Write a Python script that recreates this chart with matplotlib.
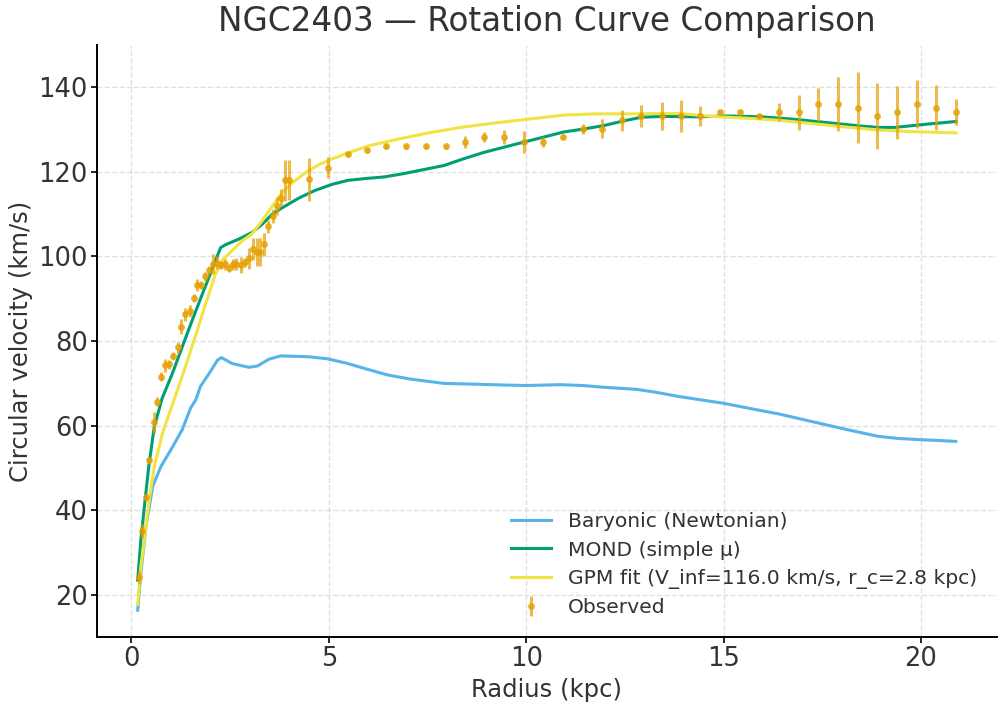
import numpy as np
from matplotlib import pyplot as plt

# observed rotation curve (kpc, km/s)
r_obs = [0.18, 0.27, 0.37, 0.45, 0.56, 0.66, 0.75, 0.86, 0.95, 1.05,
         1.17, 1.26, 1.37, 1.48, 1.58, 1.67, 1.77, 1.87, 1.97, 2.07,
         2.18, 2.27, 2.37, 2.47, 2.57, 2.66, 2.77, 2.87, 2.97, 3.07,
         3.17, 3.27, 3.37, 3.47, 3.58, 3.68, 3.78, 3.88, 3.98, 4.49,
         4.99, 5.49, 5.98, 6.46, 6.96, 7.46, 7.96, 8.46, 8.94, 9.45,
         9.94, 10.43, 10.93, 11.43, 11.91, 12.43, 12.92, 13.43, 13.92, 14.41,
         14.92, 15.42, 15.90, 16.41, 16.90, 17.40, 17.91, 18.40, 18.89, 19.40,
         19.89, 20.38, 20.89]
v_obs = [24.2, 35.1, 43.1, 51.8, 60.8, 65.7, 71.6, 74.3, 74.5, 76.5,
         78.5, 83.4, 86.3, 87.1, 90.2, 93.2, 93.3, 95.3, 96.8, 98.2,
         98.5, 98.0, 98.1, 97.3, 98.1, 98.2, 98.0, 98.6, 99.6, 101.8,
         101.0, 101.0, 102.9, 107.1, 109.6, 111.9, 113.9, 118.0, 118.0, 118.2,
         121.0, 124.2, 125.1, 126.0, 126.0, 126.0, 126.0, 127.1, 128.2, 128.2,
         127.1, 127.1, 128.2, 130.2, 130.2, 132.2, 133.2, 133.2, 133.2, 133.2,
         134.1, 134.1, 133.2, 134.1, 134.1, 136.0, 136.0, 135.2, 133.2, 134.1,
         136.0, 135.2, 134.1]
e_obs = [1.6, 1.6, 0.8, 0.8, 2.5, 1.0, 1.0, 1.5, 1.0, 1.0,
         1.4, 1.8, 1.5, 1.4, 1.0, 1.4, 1.0, 1.0, 1.0, 2.3,
         1.5, 1.0, 1.2, 1.0, 1.4, 1.5, 1.8, 1.0, 2.5, 2.6,
         3.3, 3.3, 2.7, 1.6, 1.6, 2.1, 2.0, 4.9, 4.7, 5.1,
         2.4, 0.6, 0.6, 0.5, 0.5, 0.5, 0.5, 1.4, 1.1, 1.6,
         2.6, 1.2, 0.5, 1.2, 2.3, 2.5, 2.7, 3.3, 3.7, 2.4,
         0.5, 0.5, 0.5, 2.2, 4.1, 3.9, 6.4, 8.4, 7.8, 6.3,
         5.7, 5.3, 3.0]

# baryonic (Newtonian)
r_bar = [0.16, 0.24, 0.37, 0.54, 0.75, 1.0, 1.29, 1.5, 1.63, 1.75, 2.0, 2.18,
         2.28, 2.55, 2.98, 3.19, 3.48, 3.78, 4.49, 4.98, 5.48, 5.99, 6.49,
         7.08, 7.92, 8.76, 9.51, 10.0, 10.86, 11.44, 11.95, 12.79, 13.29,
         13.87, 15.0, 15.71, 16.39, 17.23, 18.07, 18.91, 19.41, 20.0, 20.88]
v_bar = [16.4, 25.3, 36.2, 45.7, 50.4, 54.3, 59.1, 64.2, 66.1, 69.3, 72.8, 75.5,
         76.1, 74.7, 73.8, 74.1, 75.7, 76.5, 76.3, 75.8, 74.7, 73.3, 72.0,
         71.0, 70.0, 69.8, 69.6, 69.5, 69.7, 69.5, 69.1, 68.6, 67.9,
         66.9, 65.3, 64.0, 62.8, 61.0, 59.2, 57.5, 57.0, 56.7, 56.3]

# MOND (simple mu)
r_mond = [0.16, 0.24, 0.33, 0.44, 0.58, 0.78, 1.04, 1.29, 1.54, 1.80, 2.05,
          2.26, 2.39, 2.72, 3.06, 3.31, 3.57, 3.82, 4.24, 4.65, 5.07, 5.49,
          5.91, 6.41, 6.91, 7.92, 8.42, 8.93, 9.43, 9.93, 10.44, 10.94, 11.44,
          11.95, 12.45, 12.92, 13.44, 14.28, 15.13, 15.97, 16.81, 17.66, 18.50,
          18.92, 19.34, 20.19, 20.89]
v_mond = [23.5, 33.1, 41.0, 50.4, 59.8, 66.5, 72.4, 78.7, 84.9, 91.2, 97.1,
          102.1, 102.8, 104.1, 105.7, 107.6, 110.0, 111.5, 113.8, 115.6, 117.0, 118.0,
          118.4, 118.8, 119.6, 121.5, 123.1, 124.6, 125.8, 127.0, 128.2, 129.4, 130.1,
          130.9, 132.0, 132.9, 133.1, 133.0, 133.2, 133.0, 132.4, 131.6, 130.8,
          130.5, 130.5, 131.3, 131.9]

# GPM fit
r_gpm = [0.16, 0.24, 0.37, 0.45, 0.58, 0.79, 1.08, 1.37, 1.63, 1.88, 2.13,
         2.30, 2.55, 2.81, 3.06, 3.31, 3.57, 3.82, 4.07, 4.41, 4.75, 5.07,
         5.49, 5.99, 6.74, 7.58, 8.42, 9.26, 10.1, 10.94, 11.78, 12.62, 13.86,
         14.7, 15.55, 16.39, 17.23, 18.08, 18.92, 19.76, 20.89]
v_gpm = [17.8, 26.8, 36.2, 42.5, 50.4, 58.3, 66.1, 74.0, 81.4, 88.8, 95.9,
         99.0, 101.4, 103.7, 105.4, 108.4, 111.9, 115.1, 117.4, 119.8, 121.7, 123.0,
         124.5, 126.1, 127.7, 129.3, 130.6, 131.6, 132.5, 133.4, 133.7, 133.7, 133.8,
         133.1, 132.7, 132.2, 131.4, 130.6, 129.9, 129.5, 129.2]

text_col = '#333333'

fig = plt.figure(figsize=(9.98, 7.04), dpi=100)
ax = fig.add_subplot(111)
fig.subplots_adjust(left=0.097, right=0.999, bottom=0.095, top=0.936)

ax.plot(r_bar, v_bar, color='#56B4E9', lw=2.2, label='Baryonic (Newtonian)')
ax.plot(r_mond, v_mond, color='#009E73', lw=2.2, label='MOND (simple μ)')
ax.plot(r_gpm, v_gpm, color='#F0E442', lw=2.2, label='GPM fit (V_inf=116.0 km/s, r_c=2.8 kpc)')
ax.errorbar(r_obs, v_obs, yerr=e_obs, fmt='o', color='#E69F00', ms=4,
            elinewidth=2.2, capsize=0, alpha=0.7, label='Observed')

ax.set_title('NGC2403 — Rotation Curve Comparison', fontsize=23.5, color=text_col, pad=10)
ax.set_xlabel('Radius (kpc)', fontsize=17.5, color=text_col, labelpad=4)
ax.set_ylabel('Circular velocity (km/s)', fontsize=17.5, color=text_col, labelpad=4)
ax.tick_params(labelsize=18.5, labelcolor=text_col, length=4, width=1.2, pad=2.5)
ax.set_xticks([0, 5, 10, 15, 20])
ax.set_yticks([20, 40, 60, 80, 100, 120, 140])

ax.grid(True, linestyle='--', color='#cccccc', alpha=0.6, lw=1)
ax.spines['top'].set_visible(False)
ax.spines['right'].set_visible(False)
ax.spines['left'].set_linewidth(1.4)
ax.spines['bottom'].set_linewidth(1.4)

leg = ax.legend(loc='lower right', fontsize=14.6, frameon=False, labelspacing=0.45,
                borderaxespad=0.6)
for t in leg.get_texts():
    t.set_color(text_col)

fig.savefig('out.png', dpi=100)
